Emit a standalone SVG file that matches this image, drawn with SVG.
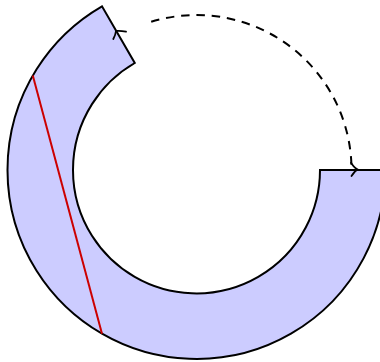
<svg xmlns="http://www.w3.org/2000/svg" width="380" height="362" viewBox="0 0 380 362">
<style>
.outline{fill:#ccccff;stroke:#000;stroke-width:2;stroke-linejoin:miter}
.chord{fill:none;stroke:#cc0000;stroke-width:2}
.dash{fill:none;stroke:#000;stroke-width:2;stroke-dasharray:8.5 6.8}
.tip{fill:none;stroke:#000;stroke-width:1.8;stroke-linecap:round}
</style>
<rect width="380" height="362" fill="#fff"/>
<g id="ring">
<path class="outline" d="M 385.5 170 A 189 189 0 1 1 102 6.3 L 134.75 63 A 123.5 123.5 0 1 0 320 170 Z"/>
</g>
<g id="chord">
<line class="chord" x1="32.8" y1="75.5" x2="102" y2="333.7"/>
</g>
<g id="connectors">
<path class="dash" d="M 151.2 21.8 A 155 155 0 0 1 351.5 167"/>
<path class="tip" d="M 351 162.7 Q 354.5 168 357.7 169.5 Q 354.5 171 351.5 176"/>
<path class="tip" d="M 126 31.7 Q 120 30.5 116 31 Q 115.5 35 113.3 39"/>
</g>
</svg>
